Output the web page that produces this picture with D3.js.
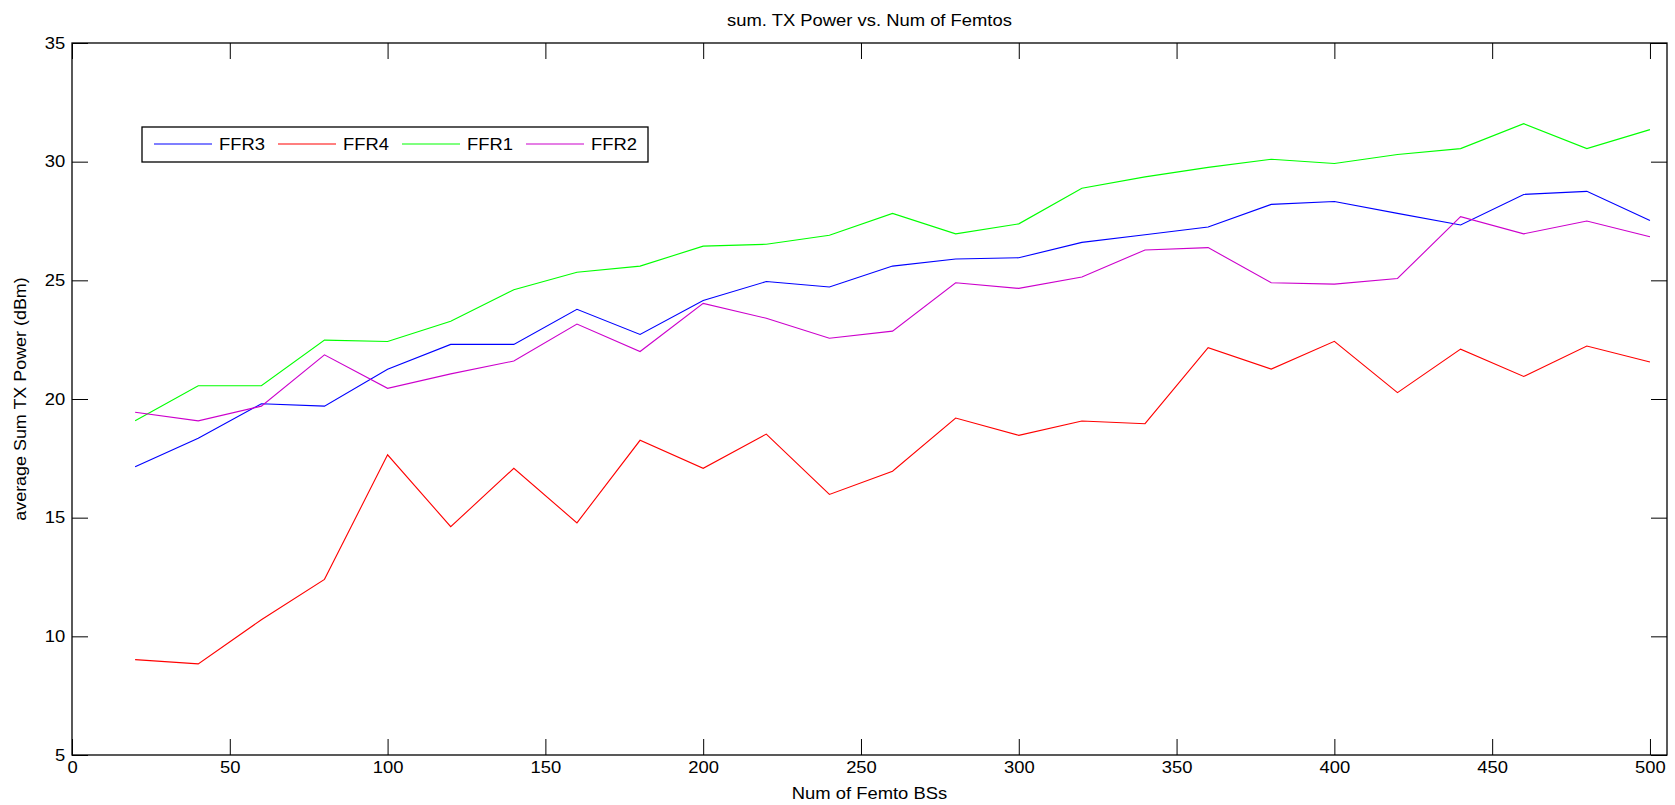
<!DOCTYPE html>
<html>
<head>
<meta charset="utf-8">
<script src="https://cdn.jsdelivr.net/npm/d3@7"></script>
<style>
  body { margin: 0; background: #fff; }
  svg text { font-family: "Liberation Sans", Arial, sans-serif; fill: #000; }
</style>
</head>
<body>
<svg id="chart" width="1675" height="805"></svg>
<script>
// number of femto BSs
const femtos = [20, 40, 60, 80, 100, 120, 140, 160, 180, 200, 220, 240, 260,
  280, 300, 320, 340, 360, 380, 400, 420, 440, 460, 480, 500];

// average sum TX power (dBm)
const ffr3 = [17.15, 18.35, 19.8, 19.7, 21.25, 22.3, 22.3, 23.78, 22.72, 24.15,
  24.95, 24.72, 25.6, 25.9, 25.95, 26.6, 26.92, 27.25, 28.2, 28.32, 27.82, 27.33,
  28.62, 28.75, 27.52];
const ffr4 = [9.02, 8.84, 10.7, 12.4, 17.65, 14.62, 17.08, 14.78, 18.26, 17.08,
  18.52, 15.98, 16.96, 19.2, 18.47, 19.07, 18.96, 22.16, 21.26, 22.43, 20.27,
  22.1, 20.95, 22.23, 21.56];
const ffr1 = [19.08, 20.56, 20.56, 22.48, 22.42, 23.28, 24.6, 25.34, 25.6, 26.44,
  26.52, 26.9, 27.82, 26.96, 27.38, 28.88, 29.36, 29.76, 30.1, 29.92, 30.3, 30.55,
  31.6, 30.55, 31.35];
const ffr2 = [19.44, 19.08, 19.7, 21.86, 20.45, 21.06, 21.6, 23.16, 22.0, 24.03,
  23.4, 22.56, 22.86, 24.9, 24.66, 25.14, 26.28, 26.38, 24.9, 24.84, 25.08, 27.68,
  26.96, 27.5, 26.84];

const seriesNames = ["FFR3", "FFR4", "FFR1", "FFR2"];
const seriesValues = [ffr3, ffr4, ffr1, ffr2];
const seriesColors = ["#0000ff", "#ff0000", "#00ff00", "#cc00cc"];

const xTicks = [0, 50, 100, 150, 200, 250, 300, 350, 400, 450, 500];
const yTicks = [5, 10, 15, 20, 25, 30, 35];

const svg = d3.select("#chart");
const margin = { top: 43, right: 8, bottom: 50, left: 72 };
const width = 1675 - margin.left - margin.right;
const height = 805 - margin.top - margin.bottom;
const tickLen = 16;
const stretch = "scale(1.15,1)"; // the original text is a bit wider than Arial

const x = d3.scaleLinear().domain([0, 505.4]).range([0, width]);
const y = d3.scaleLinear().domain([5, 35]).range([height, 0]);

const g = svg.append("g")
  .attr("transform", `translate(${margin.left},${margin.top})`);

// axes, ticks pointing inward like matlab
const xAxis = d3.axisBottom(x).tickValues(xTicks).tickSizeInner(-tickLen).tickSizeOuter(0).tickPadding(7);
const yAxis = d3.axisLeft(y).tickValues(yTicks).tickSizeInner(-tickLen).tickSizeOuter(0).tickPadding(6);

g.append("g").attr("class", "axis")
  .attr("transform", `translate(0,${height})`)
  .call(xAxis);
g.append("g").attr("class", "axis").call(yAxis);

// mirrored ticks on top and right
g.append("g").attr("class", "axis mirror")
  .call(d3.axisTop(x).tickValues(xTicks).tickSizeInner(-tickLen).tickSizeOuter(0).tickFormat(""));
g.append("g").attr("class", "axis mirror")
  .attr("transform", `translate(${width},0)`)
  .call(d3.axisRight(y).tickValues(yTicks).tickSizeInner(-tickLen).tickSizeOuter(0).tickFormat(""));

g.selectAll(".axis .domain").remove();
g.selectAll(".axis line").attr("stroke", "#000").attr("stroke-width", 1);
g.selectAll(".axis text")
  .style("font-size", "16px")
  .attr("fill", "#000")
  .attr("transform", stretch);

// box
g.append("rect")
  .attr("x", 0).attr("y", 0)
  .attr("width", width).attr("height", height)
  .attr("fill", "none").attr("stroke", "#000").attr("stroke-width", 1.3);

// lines
const line = d3.line()
  .x((d, i) => x(femtos[i]))
  .y(d => y(d));

seriesValues.forEach((vals, k) => {
  g.append("path")
    .datum(vals)
    .attr("fill", "none")
    .attr("stroke", seriesColors[k])
    .attr("stroke-width", 1.1)
    .attr("d", line);
});

// title and labels
svg.append("text")
  .attr("transform", `translate(${margin.left + width / 2},26) ${stretch}`)
  .attr("text-anchor", "middle")
  .style("font-size", "16px")
  .text("sum. TX Power vs. Num of Femtos");

svg.append("text")
  .attr("transform", `translate(${margin.left + width / 2},799) ${stretch}`)
  .attr("text-anchor", "middle")
  .style("font-size", "16px")
  .text("Num of Femto BSs");

svg.append("text")
  .attr("transform", `translate(26,${margin.top + height / 2}) rotate(-90) scale(1.12,1)`)
  .attr("text-anchor", "middle")
  .style("font-size", "16px")
  .text("average Sum TX Power (dBm)");

// legend
const legend = svg.append("g").attr("transform", "translate(142,127)");
legend.append("rect")
  .attr("width", 506).attr("height", 35)
  .attr("fill", "#fff").attr("stroke", "#000").attr("stroke-width", 1.3);

const item = legend.selectAll(".item")
  .data(seriesNames)
  .enter()
  .append("g")
  .attr("class", "item")
  .attr("transform", (d, i) => `translate(${12 + i * 124},17)`);

item.append("line")
  .attr("x1", 0).attr("x2", 58)
  .attr("stroke", (d, i) => seriesColors[i])
  .attr("stroke-width", 1.1);

item.append("text")
  .attr("transform", `translate(65,0) ${stretch}`)
  .attr("dy", "0.35em")
  .style("font-size", "16px")
  .text(d => d);
</script>
</body>
</html>
